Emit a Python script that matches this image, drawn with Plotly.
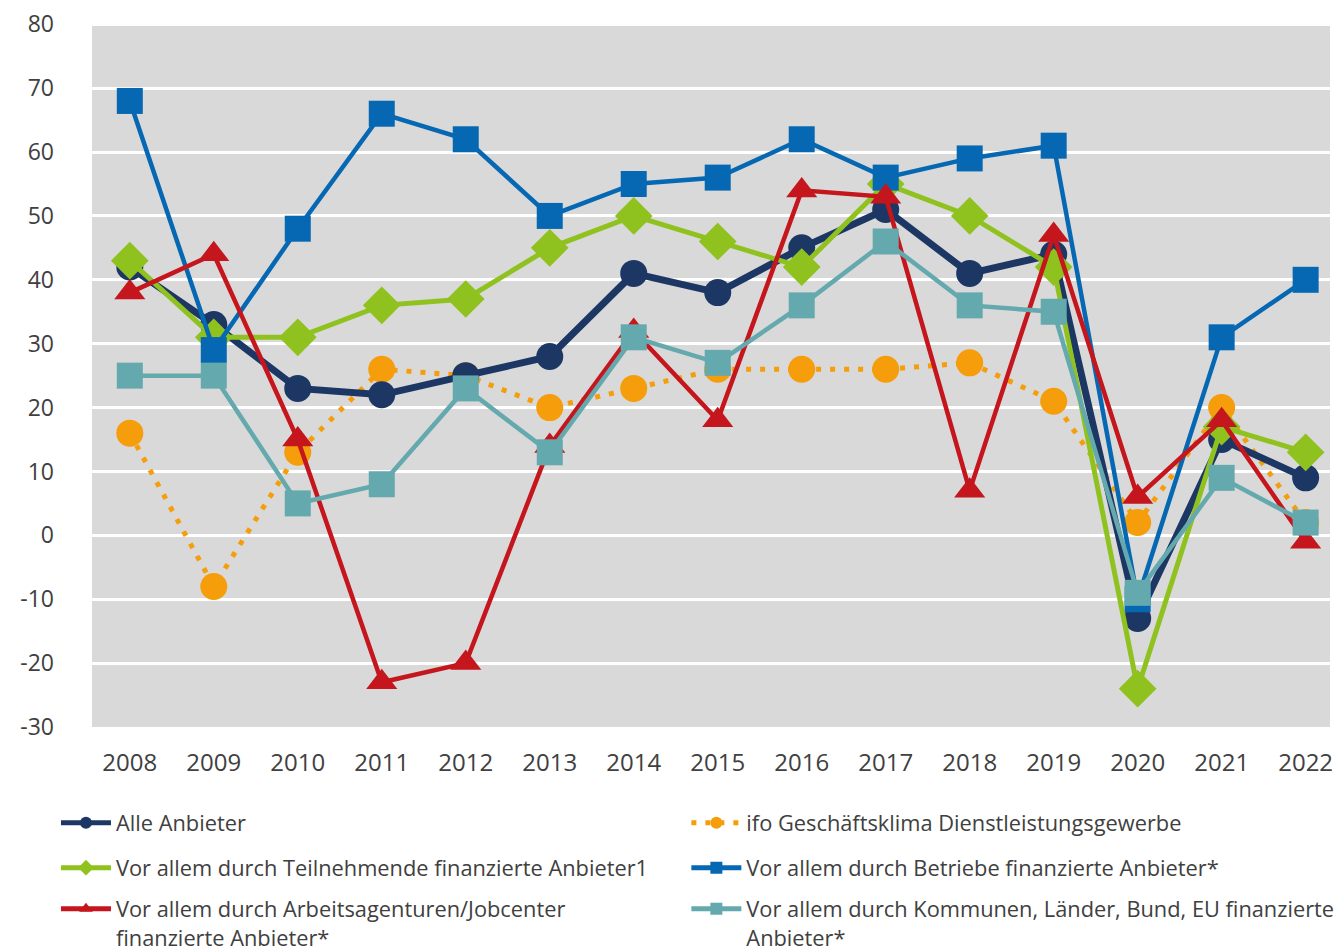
import plotly.graph_objects as go

years = ["2008", "2009", "2010", "2011", "2012", "2013", "2014", "2015",
         "2016", "2017", "2018", "2019", "2020", "2021", "2022"]

alle = [42, 33, 23, 22, 25, 28, 41, 38, 45, 51, 41, 44, -13, 15, 9]
ifo = [16, -8, 13, 26, 25, 20, 23, 26, 26, 26, 27, 21, 2, 20, 2]
teilnehmende = [43, 31, 31, 36, 37, 45, 50, 46, 42, 55, 50, 42, -24, 17, 13]
betriebe = [68, 29, 48, 66, 62, 50, 55, 56, 62, 56, 59, 61, -10, 31, 40]
arbeitsagenturen = [38, 44, 15, -23, -20, 14, 32, 18, 54, 53, 7, 47, 6, 18, -1]
kommunen = [25, 25, 5, 8, 23, 13, 31, 27, 36, 46, 36, 35, -9, 9, 2]

y_tick_values = [-30, -20, -10, 0, 10, 20, 30, 40, 50, 60, 70, 80]
y_tick_labels = ["-30", "-20", "-10", "0", "10", "20", "30", "40", "50", "60", "70", "80"]

names = {
    "alle": "Alle Anbieter",
    "ifo": "ifo Geschäftsklima Dienstleistungsgewerbe",
    "teil": "Vor allem durch Teilnehmende finanzierte Anbieter1",
    "betr": "Vor allem durch Betriebe finanzierte Anbieter*",
    "arb": "Vor allem durch Arbeitsagenturen/Jobcenter<br>finanzierte Anbieter*",
    "kom": "Vor allem durch Kommunen, Länder, Bund, EU finanzierte<br>Anbieter*",
}

NAVY = "#1d3765"
GREEN = "#8fc21f"
RED = "#c4161c"
ORANGE = "#f59d0a"
BLUE = "#0668b3"
TEAL = "#64a9ae"
TXT = "#404040"

fig = go.Figure()

# draw order: orange, navy, green, blue, red, teal
fig.add_trace(go.Scatter(x=years, y=ifo, name=names["ifo"], mode="lines+markers",
                         line=dict(color=ORANGE, width=5, dash="5px,9px"),
                         marker=dict(symbol="circle", size=27, color=ORANGE),
                         legend="legend2"))
fig.add_trace(go.Scatter(x=years, y=alle, name=names["alle"], mode="lines+markers",
                         line=dict(color=NAVY, width=7),
                         marker=dict(symbol="circle", size=27, color=NAVY),
                         legend="legend"))
fig.add_trace(go.Scatter(x=years, y=teilnehmende, name=names["teil"], mode="lines+markers",
                         line=dict(color=GREEN, width=5),
                         marker=dict(symbol="diamond", size=29, color=GREEN),
                         legend="legend3"))
fig.add_trace(go.Scatter(x=years, y=betriebe, name=names["betr"], mode="lines+markers",
                         line=dict(color=BLUE, width=4.5),
                         marker=dict(symbol="square", size=26, color=BLUE),
                         legend="legend4"))
fig.add_trace(go.Scatter(x=years, y=arbeitsagenturen, name=names["arb"], mode="lines+markers",
                         line=dict(color=RED, width=4.5),
                         marker=dict(symbol="triangle-up", size=27, color=RED),
                         legend="legend5"))
fig.add_trace(go.Scatter(x=years, y=kommunen, name=names["kom"], mode="lines+markers",
                         line=dict(color=TEAL, width=4.5),
                         marker=dict(symbol="square", size=26, color=TEAL),
                         legend="legend6"))


def leg(x, y, valign="middle"):
    return dict(x=x, xanchor="left", y=y, yanchor="middle", valign=valign,
                itemsizing="constant", itemwidth=50,
                font=dict(size=21.8, color=TXT, family="Open Sans"),
                bgcolor="rgba(0,0,0,0)")


TOP = 15
PH = 944.0 - TOP - 225
def py(page_y):
    return 1 - (page_y - 8 - TOP) / PH


XL, XR = -0.0291, 0.4801
fig.update_layout(
    width=1334, height=944,
    margin=dict(l=84, r=12, t=TOP, b=225, autoexpand=False),
    paper_bgcolor="white",
    plot_bgcolor="#d9d9d9",
    font=dict(family="Open Sans", color=TXT, size=22),
    showlegend=True,
    legend=leg(XL, py(823)),
    legend2=leg(XR, py(823)),
    legend3=leg(XL, py(868)),
    legend4=leg(XR, py(868)),
    legend5=leg(XL, py(923), "top"),
    legend6=leg(XR, py(923), "top"),
    xaxis=dict(
        type="category", range=[-0.45, 14.29], automargin=False,
        showgrid=False, zeroline=False, showline=False,
        ticks="", tickfont=dict(size=24, color=TXT),
        ticklabelstandoff=19,
    ),
    yaxis=dict(
        range=[-30, 80.2], tickvals=y_tick_values, ticktext=y_tick_labels,
        automargin=False, ticklabeloverflow="allow",
        showgrid=True, gridcolor="white", gridwidth=3,
        zeroline=False, showline=False, ticks="",
        tickfont=dict(size=23, color=TXT),
        ticklabelstandoff=37,
    ),
)

fig.write_html("out.html")
